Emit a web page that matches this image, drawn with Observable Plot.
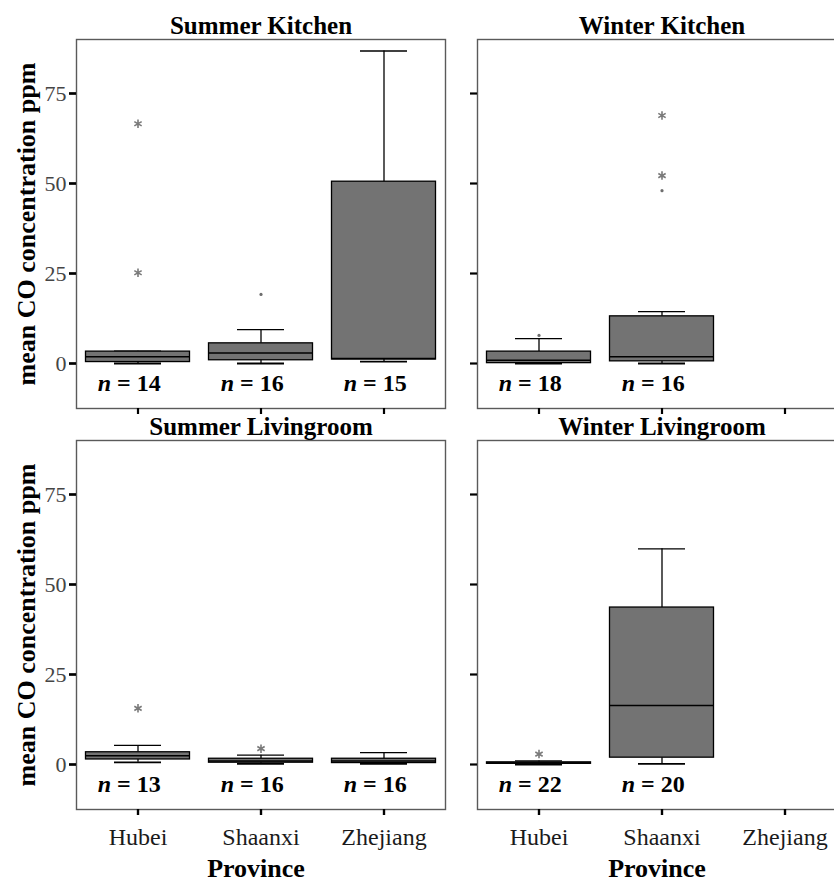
<!DOCTYPE html>
<html>
<head>
<meta charset="utf-8">
<script src="https://cdn.jsdelivr.net/npm/d3@7"></script>
<script src="https://cdn.jsdelivr.net/npm/@observablehq/plot@0.6"></script>
<style>
  html, body { margin: 0; padding: 0; background: #fff; overflow: hidden; }
  #chart svg { max-width: none !important; display: block; }
</style>
</head>
<body>
<div id="chart"></div>
<script>
// ---- data ----
const seasons = ["Summer", "Winter"];
const locations = ["Kitchen", "Livingroom"];
const provinces = ["Hubei", "Shaanxi", "Zhejiang"];
const yTicks = [0, 25, 50, 75];

const panelSeason = ["Summer", "Winter", "Summer", "Winter"];
const panelLocation = ["Kitchen", "Kitchen", "Livingroom", "Livingroom"];
const panelTitle = ["Summer Kitchen", "Winter Kitchen", "Summer Livingroom", "Winter Livingroom"];

// box summaries
const boxSeason   = ["Summer", "Summer", "Summer", "Winter", "Winter", "Summer", "Summer", "Summer", "Winter", "Winter"];
const boxLocation = ["Kitchen", "Kitchen", "Kitchen", "Kitchen", "Kitchen", "Livingroom", "Livingroom", "Livingroom", "Livingroom", "Livingroom"];
const boxProvince = ["Hubei", "Shaanxi", "Zhejiang", "Hubei", "Shaanxi", "Hubei", "Shaanxi", "Zhejiang", "Hubei", "Shaanxi"];
const whiskerLow  = [0, 0, 0.5, 0, 0, 0.6, 0.2, 0.2, 0, 0.2];
const q1          = [0.4, 0.9, 1.1, 0.1, 0.6, 1.4, 0.5, 0.4, 0.2, 1.9];
const median      = [1.9, 2.9, 1.4, 0.9, 1.9, 2.4, 1.0, 1.0, 0.4, 16.4];
const q3          = [3.3, 5.6, 50.5, 3.3, 13.1, 3.4, 1.6, 1.6, 0.6, 43.6];
const whiskerHigh = [3.4, 9.4, 86.8, 6.9, 14.4, 5.3, 2.6, 3.3, 1.0, 59.9];
const nObs        = [14, 16, 15, 18, 16, 13, 16, 16, 22, 20];

// outliers: "extreme" = asterisk, "outlier" = small dot
const outSeason   = ["Summer", "Summer", "Summer", "Winter", "Winter", "Winter", "Winter", "Summer", "Summer", "Winter"];
const outLocation = ["Kitchen", "Kitchen", "Kitchen", "Kitchen", "Kitchen", "Kitchen", "Kitchen", "Livingroom", "Livingroom", "Livingroom"];
const outProvince = ["Hubei", "Hubei", "Shaanxi", "Hubei", "Shaanxi", "Shaanxi", "Shaanxi", "Hubei", "Shaanxi", "Hubei"];
const outValue    = [66.6, 25.2, 19.2, 7.8, 68.9, 52.2, 48.0, 15.6, 4.4, 2.9];
const outKind     = ["extreme", "extreme", "outlier", "outlier", "extreme", "extreme", "outlier", "extreme", "extreme", "extreme"];

// ---- tables ----
const boxes = boxProvince.map((p, i) => ({
  season: boxSeason[i], location: boxLocation[i], province: p,
  lo: whiskerLow[i], q1: q1[i], med: median[i], q3: q3[i], hi: whiskerHigh[i], n: nObs[i]
}));
const outliers = outProvince.map((p, i) => ({
  season: outSeason[i], location: outLocation[i], province: p, value: outValue[i], kind: outKind[i]
}));
const panels = panelTitle.map((t, i) => ({season: panelSeason[i], location: panelLocation[i], title: t}));
const leftPanels = panels.filter(d => d.season === "Summer");
const bottomPanels = panels.filter(d => d.location === "Livingroom");

const font = "'Liberation Serif', 'Times New Roman', serif";
const F = {fx: "season", fy: "location"};

const chart = Plot.plot({
  width: 846,
  height: 881,
  marginLeft: 75,
  marginRight: 0,
  marginTop: 39,
  marginBottom: 72,
  style: {fontFamily: font, background: "#fff", overflow: "visible", maxWidth: "none"},
  fx: {domain: seasons, paddingInner: 0.08, paddingOuter: 0, axis: null},
  fy: {domain: locations, paddingInner: 0.08, paddingOuter: 0, axis: null},
  x: {type: "band", domain: provinces, padding: 0},
  y: {domain: [-12.5, 90]},
  marks: [
    Plot.frame({stroke: "#5a5a5a", strokeWidth: 1.4}),
    // y axis: labels on left column, ticks everywhere
    Plot.axisY({ticks: yTicks, tickSize: 7, tickPadding: 3, stroke: "#000", strokeWidth: 2.2,
      fill: "#454545", fontSize: 22, label: null}),
    Plot.axisY({ticks: yTicks, tickSize: 7, tickFormat: () => "", facetAnchor: null, stroke: "#000",
      strokeWidth: 2.2, label: null}),
    // x axis: ticks everywhere, labels on bottom row
    Plot.axisX({tickSize: 6, tickFormat: () => "", facetAnchor: null, stroke: "#000", strokeWidth: 2.2, label: null}),
    Plot.axisX({tickSize: 6, tickPadding: 12, stroke: "#000", strokeWidth: 2.2, fill: "#1a1a1a",
      fontSize: 24, label: null}),
    // whiskers
    Plot.ruleX(boxes, {...F, x: "province", y1: "lo", y2: "q1", stroke: "#000", strokeWidth: 1.3}),
    Plot.ruleX(boxes, {...F, x: "province", y1: "q3", y2: "hi", stroke: "#000", strokeWidth: 1.3}),
    Plot.tickY(boxes, {...F, x: "province", y: "lo", insetLeft: 38, insetRight: 38, stroke: "#000", strokeWidth: 1.8}),
    Plot.tickY(boxes, {...F, x: "province", y: "hi", insetLeft: 38, insetRight: 38, stroke: "#000", strokeWidth: 1.4}),
    // boxes
    Plot.barY(boxes, {...F, x: "province", y1: "q1", y2: "q3", fill: "#737373", stroke: "#000",
      strokeWidth: 1.3, insetLeft: 9.5, insetRight: 9.5}),
    Plot.tickY(boxes, {...F, x: "province", y: "med", insetLeft: 9.5, insetRight: 9.5, stroke: "#000", strokeWidth: 1.5}),
    // outliers
    Plot.dot(outliers.filter(d => d.kind === "extreme"), {...F, x: "province", y: "value", symbol: "asterisk",
      r: 4, stroke: "#7a7a7a", strokeWidth: 1.6}),
    Plot.dot(outliers.filter(d => d.kind === "outlier"), {...F, x: "province", y: "value", r: 1.6,
      fill: "#6e6e6e", stroke: null}),
    // n labels
    Plot.text(boxes, {...F, x: "province", text: () => "n", frameAnchor: "bottom", lineAnchor: "middle",
      dy: -25, dx: -27, textAnchor: "end", fontSize: 24, fontWeight: "bold", fontStyle: "italic", fill: "#000"}),
    Plot.text(boxes, {...F, x: "province", text: d => "= " + d.n, frameAnchor: "bottom", lineAnchor: "middle",
      dy: -25, dx: -21, textAnchor: "start", fontSize: 24, fontWeight: "bold", fill: "#000"}),
    // facet titles
    Plot.text(panels, {...F, text: "title", frameAnchor: "top", lineAnchor: "bottom", dy: -6,
      fontSize: 25, fontWeight: "bold", fill: "#000"}),
    // y axis title
    Plot.text(leftPanels, {...F, text: () => "mean CO concentration ppm", frameAnchor: "left", rotate: -90,
      textAnchor: "middle", lineAnchor: "middle", dx: -50, fontSize: 26, fontWeight: "bold", fill: "#000"}),
    // x axis title
    Plot.text(bottomPanels, {...F, text: () => "Province", frameAnchor: "bottom", lineAnchor: "bottom",
      dy: 67, dx: -5, fontSize: 26, fontWeight: "bold", fill: "#000"})
  ]
});
document.getElementById("chart").appendChild(chart);
</script>
</body>
</html>
